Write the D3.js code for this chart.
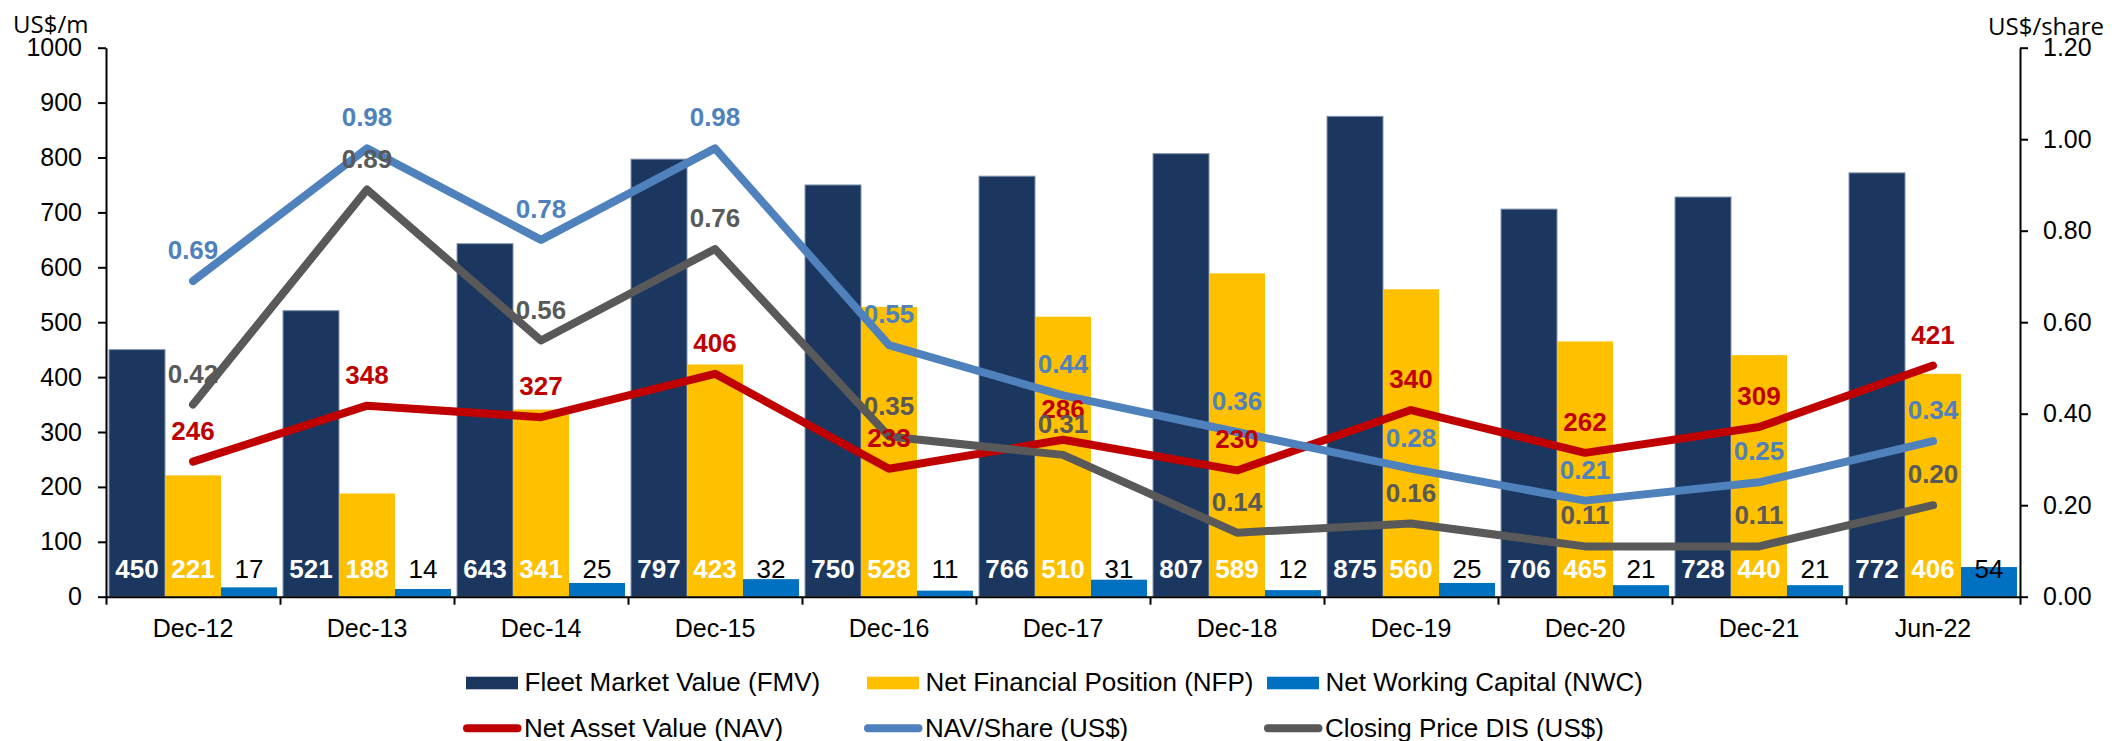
<!DOCTYPE html>
<html>
<head>
<meta charset="utf-8">
<script src="https://cdn.jsdelivr.net/npm/d3@7/dist/d3.min.js"></script>
<style>
  html, body { margin: 0; padding: 0; background: #fff; }
  svg { display: block; }
  text { font-family: "Liberation Sans", Arial, sans-serif; }
</style>
</head>
<body>
<svg id="chart" width="2112" height="741"></svg>
<script>
// ---- data ----
const categories = ["Dec-12", "Dec-13", "Dec-14", "Dec-15", "Dec-16", "Dec-17", "Dec-18", "Dec-19", "Dec-20", "Dec-21", "Jun-22"];
const fmv = [450, 521, 643, 797, 750, 766, 807, 875, 706, 728, 772];
const nfp = [221, 188, 341, 423, 528, 510, 589, 560, 465, 440, 406];
const nwc = [17, 14, 25, 32, 11, 31, 12, 25, 21, 21, 54];
const nav = [246, 348, 327, 406, 233, 286, 230, 340, 262, 309, 421];
const navPerShare = [0.69, 0.98, 0.78, 0.98, 0.55, 0.44, 0.36, 0.28, 0.21, 0.25, 0.34];
const closingPrice = [0.42, 0.89, 0.56, 0.76, 0.35, 0.31, 0.14, 0.16, 0.11, 0.11, 0.20];
const leftTicks = [0, 100, 200, 300, 400, 500, 600, 700, 800, 900, 1000];
const rightTicks = [0, 0.2, 0.4, 0.6, 0.8, 1.0, 1.2];

const barSeries = [
  { key: "fmv", name: "Fleet Market Value (FMV)", values: fmv, color: "#1B375F", stroke: "#8394ad", label: "#fff", weight: "bold" },
  { key: "nfp", name: "Net Financial Position (NFP)", values: nfp, color: "#FFC000", stroke: "none", label: "#fff", weight: "bold" },
  { key: "nwc", name: "Net Working Capital (NWC)", values: nwc, color: "#0070C0", stroke: "none", label: "#000", weight: "normal" }
];
const lineSeries = [
  { key: "nav", name: "Net Asset Value (NAV)", values: nav, color: "#C00000", axis: "left", fmt: d3.format("d") },
  { key: "nps", name: "NAV/Share (US$)", values: navPerShare, color: "#4F81BD", axis: "right", fmt: d3.format(".2f") },
  { key: "cp", name: "Closing Price DIS (US$)", values: closingPrice, color: "#595959", axis: "right", fmt: d3.format(".2f") }
];

// ---- layout ----
const plot = { left: 106, right: 2020, top: 47.7, bottom: 596.7 };
const svg = d3.select("#chart");

const x0 = d3.scaleBand().domain(categories).range([plot.left, plot.right]).padding(0);
const x1 = d3.scaleBand().domain(barSeries.map(s => s.key)).range([0, x0.bandwidth()]).paddingInner(0).paddingOuter(0.054);
const xEdge = d3.scaleLinear().domain([0, categories.length]).range([plot.left, plot.right]);
const yL = d3.scaleLinear().domain([0, 1000]).range([plot.bottom, plot.top]);
const yR = d3.scaleLinear().domain([0, 1.2]).range([plot.bottom, plot.top]);

// ---- bars ----
const gBars = svg.append("g");
barSeries.forEach(s => {
  gBars.selectAll(null).data(s.values).join("rect")
    .attr("x", (d, i) => x0(categories[i]) + x1(s.key))
    .attr("y", d => yL(d))
    .attr("width", x1.bandwidth())
    .attr("height", d => yL(0) - yL(d))
    .attr("fill", s.color)
    .attr("stroke", s.stroke)
    .attr("stroke-width", s.stroke === "none" ? 0 : 1);
});

// ---- lines ----
const cx = i => x0(categories[i]) + x0.bandwidth() / 2;
const gLines = svg.append("g");
lineSeries.forEach(s => {
  const y = s.axis === "left" ? yL : yR;
  const line = d3.line().x((d, i) => cx(i)).y(d => y(d));
  gLines.append("path")
    .datum(s.values)
    .attr("d", line)
    .attr("fill", "none")
    .attr("stroke", s.color)
    .attr("stroke-width", 8)
    .attr("stroke-linecap", "round")
    .attr("stroke-linejoin", "round");
});

// ---- axes ----
const axisStyle = g => {
  g.selectAll("path, line").attr("stroke", "#000").attr("stroke-width", 2);
  g.selectAll("text").attr("fill", "#000").style("font-size", "25px")
    .style("font-family", "'Liberation Sans', Arial, sans-serif");
};

svg.append("g")
  .attr("transform", `translate(${plot.left},0)`)
  .call(d3.axisLeft(yL).tickValues(leftTicks).tickSize(8).tickSizeOuter(0).tickPadding(16).tickFormat(d3.format("d")))
  .call(axisStyle);

svg.append("g")
  .attr("transform", `translate(${plot.right},0)`)
  .call(d3.axisRight(yR).tickValues(rightTicks).tickSize(8).tickSizeOuter(0).tickPadding(15).tickFormat(d3.format(".2f")))
  .call(axisStyle);

// category boundary ticks + baseline
svg.append("g")
  .attr("transform", `translate(0,${plot.bottom})`)
  .call(d3.axisBottom(xEdge).tickValues(d3.range(categories.length + 1)).tickSize(8).tickSizeOuter(0).tickFormat(""))
  .call(axisStyle);

// category labels
const gCat = svg.append("g")
  .attr("transform", `translate(0,${plot.bottom})`)
  .call(d3.axisBottom(x0).tickSize(0).tickPadding(0))
  .call(axisStyle);
gCat.select(".domain").remove();
gCat.selectAll("text").attr("y", 40.5).attr("dy", null);

// unit labels
svg.append("text").attr("x", 13).attr("y", 33)
  .style("font-family", "'Open Sans', 'Noto Sans', sans-serif").style("font-size", "24px")
  .attr("fill", "#000").text("US$/m");
svg.append("text").attr("x", 1988).attr("y", 35)
  .style("font-family", "'Open Sans', 'Noto Sans', sans-serif").style("font-size", "24px")
  .attr("fill", "#000").text("US$/share");

// ---- bar value labels (inside base) ----
const gBarLabels = svg.append("g");
barSeries.forEach(s => {
  gBarLabels.selectAll(null).data(s.values).join("text")
    .attr("x", (d, i) => x0(categories[i]) + x1(s.key) + x1.bandwidth() / 2)
    .attr("y", yL(0) - 18.7)
    .attr("text-anchor", "middle")
    .attr("fill", s.label)
    .style("font-size", "26px")
    .style("font-weight", s.weight)
    .text(d => d);
});

// ---- line value labels (above) ----
const gLineLabels = svg.append("g");
lineSeries.forEach(s => {
  const y = s.axis === "left" ? yL : yR;
  gLineLabels.selectAll(null).data(s.values).join("text")
    .attr("x", (d, i) => cx(i))
    .attr("y", d => y(d) - 22)
    .attr("text-anchor", "middle")
    .attr("fill", s.color)
    .style("font-size", "26px")
    .style("font-weight", "bold")
    .text(d => s.fmt(d));
});

// ---- legend ----
const legendCols = [466, 867, 1267];
const gLegend = svg.append("g");
barSeries.forEach((s, i) => {
  gLegend.append("rect")
    .attr("x", legendCols[i]).attr("y", 676.7)
    .attr("width", 52).attr("height", 12.6)
    .attr("fill", s.color);
  gLegend.append("text")
    .attr("x", legendCols[i] + 58.5).attr("y", 690.7)
    .attr("fill", "#000").style("font-size", "26px")
    .text(s.name);
});
lineSeries.forEach((s, i) => {
  gLegend.append("line")
    .attr("x1", legendCols[i] + 1).attr("x2", legendCols[i] + 51.5)
    .attr("y1", 728.3).attr("y2", 728.3)
    .attr("stroke", s.color).attr("stroke-width", 8)
    .attr("stroke-linecap", "round");
  gLegend.append("text")
    .attr("x", legendCols[i] + 58).attr("y", 736.7)
    .attr("fill", "#000").style("font-size", "26px")
    .text(s.name);
});
</script>
</body>
</html>
